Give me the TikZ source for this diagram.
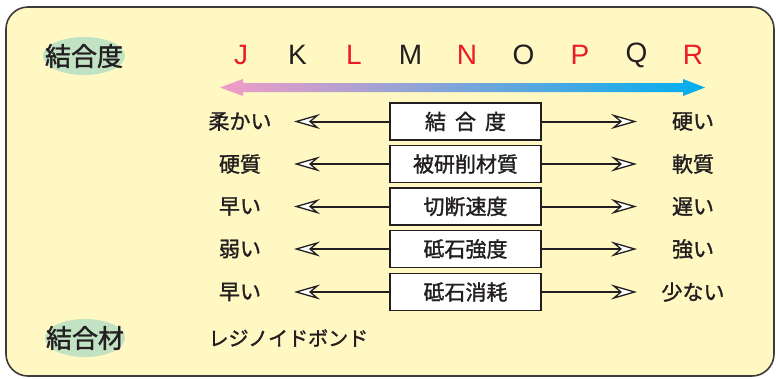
\documentclass[tikz,border=0pt]{standalone}
\usepackage{fontspec}
\usetikzlibrary{arrows.meta}
\newfontfamily\jpfont[FakeBold=1.4]{Noto Sans CJK JP}
\newfontfamily\gradefont{Liberation Sans}
\definecolor{panelfill}{HTML}{FFF8C3}
\definecolor{panelline}{HTML}{3E3A3A}
\definecolor{inkgray}{HTML}{231F20}
\definecolor{gradered}{HTML}{ED1C24}
\definecolor{tagfill}{HTML}{C2E2C4}
\definecolor{softpink}{HTML}{F29CC6}
\definecolor{midlilac}{HTML}{9CA6D9}
\definecolor{hardcyan}{HTML}{00AEEF}

\begin{document}
\begin{tikzpicture}[x=1pt, y=-1pt,
    tag/.style={font=\jpfont\fontsize{26}{26}\selectfont, text=inkgray},
    grade/.style={font=\gradefont\fontsize{28}{28}\selectfont},
    word/.style={font=\jpfont\fontsize{21}{21}\selectfont, text=inkgray},
    factor/.style={draw=inkgray, line width=1.3pt, fill=white, minimum width=151pt,
        minimum height=37pt, inner sep=0pt, font=\jpfont\fontsize{21}{21}\selectfont, text=inkgray},
    link/.style={draw=inkgray, line width=2pt,
        -{Stealth[length=26pt, width=15pt, inset=9pt, fill=white, line width=1.3pt]}}]
    % 枠
    \useasboundingbox (0,0) rectangle (776,378);
    \draw[panelline, fill=panelfill, line width=1.6pt, rounded corners=22pt] (6,7) rectangle (774,376);

    % 見出し
    \fill[tagfill] (84,56) ellipse (41 and 19);
    \fill[tagfill] (85,338) ellipse (40 and 19);
    \node[tag] (bond) at (84,56) {結合度};
    \node[tag] (binder) at (85,338) {結合材};

    % 結合度記号
    \foreach \g/\c [count=\i from 0] in {J/gradered, K/inkgray, L/gradered, M/inkgray, N/gradered,
        O/inkgray, P/gradered, Q/inkgray, R/gradered}
        \node[grade, text=\c] (grade\g) at ({241+56.5*\i},55) {\g};

    % グラデーション矢印
    \shade[left color=softpink, middle color=midlilac, right color=hardcyan]
        (220,87.5) -- (243,79) -- (243,83) -- (683,83) -- (683,79) -- (705,87.5)
        -- (683,96) -- (683,92) -- (243,92) -- (243,96) -- cycle;

    % 各項目
    \foreach \yy/\mid/\lft/\rgt [count=\i] in {
        121.5/{結\hspace{9pt}合\hspace{9pt}度}/柔かい/硬い,
        164/被研削材質/硬質/軟質,
        206.5/切断速度/早い/遅い,
        249/砥石強度/弱い/強い,
        292/砥石消耗/早い/少ない} {
        \node[factor] (f\i) at (465.5,\yy) {\mid};
        \node[word] (l\i) at (240,\yy) {\lft};
        \node[word] (r\i) at (693,\yy) {\rgt};
        \coordinate (lt\i) at (294,\yy);
        \coordinate (rt\i) at (637,\yy);
        \draw[link] (f\i.west) -- (lt\i);
        \draw[link] (f\i.east) -- (rt\i);
    }

    % 結合材
    \node[word, anchor=west, font=\jpfont\fontsize{20}{20}\selectfont] (resinoid) at (205,338) {レジノイドボンド};
\end{tikzpicture}
\end{document}
